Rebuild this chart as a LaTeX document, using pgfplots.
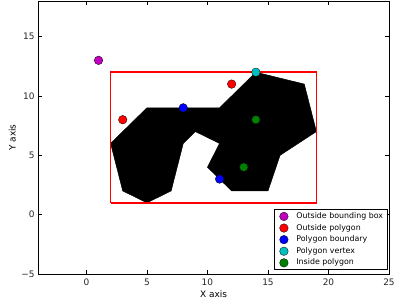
\documentclass[border=0pt]{standalone}
\usepackage{fontspec}
\setmainfont{DejaVu Sans}
\usepackage{pgfplots}
\pgfplotsset{compat=1.18}
\definecolor{mplm}{rgb}{0.75,0,0.75}
\definecolor{mplc}{rgb}{0,0.75,0.75}
\definecolor{mplg}{rgb}{0,0.5,0}
\begin{document}
\begin{tikzpicture}
\begin{axis}[
  scale only axis, width=351bp, height=273bp,
  xmin=-4, xmax=25, ymin=-5, ymax=18,
  xtick={0,5,10,15,20,25}, ytick={-5,0,5,10,15},
  xticklabels={0,5,10,15,20,25},
  yticklabels={−5,0,5,10,15},
  tick label style={font=\fontsize{9}{11}\selectfont, text=black!85},
  xticklabel style={yshift=-1bp},
  major tick length=4bp,
  tick style={black, line width=0.5bp},
  axis line style={black, line width=0.8bp},
  xlabel={X axis}, ylabel={Y axis},
  label style={font=\fontsize{9}{11}\selectfont},
  xlabel style={at={(axis description cs:0.5,-0.075)}, anchor=center},
  ylabel style={at={(axis description cs:-0.0735,0.5)}, anchor=center, rotate=0},
  legend cell align=left,
  legend style={at={(axis description cs:1,0)}, anchor=south east, xshift=-1bp, yshift=4bp,
    font=\fontsize{7.9}{9}\selectfont, draw=black, line width=0.8bp,
    inner xsep=3.1bp, inner ysep=1.5bp, row sep=1.1bp,
    nodes={inner sep=1.5bp, text height=5.8bp, text depth=1.7bp}},
  legend image code/.code={\path[draw=none, fill=none] (0bp,0bp) -- (17bp,0bp);
    \draw plot[only marks] coordinates {(6bp,0bp)};},
]
\addplot[fill=black, draw=black, line width=0.5bp, forget plot] coordinates {
  (2,6) (3,2) (5,1) (7,2) (8,6) (9,7) (11,6) (10,4) (12,2) (15,2) (16,5)
  (19,7) (18,11) (14,12) (11,9) (5,9) (2,6)};
\addplot[red, line width=1.6bp, forget plot] coordinates {
  (2,1) (19,1) (19,12) (2,12) (2,1)};
\addplot[only marks, mark=*, mark size=4.3bp, mark options={fill=mplm, draw=black, line width=0.3bp}] coordinates {(1,13)};
\addlegendentry{Outside bounding box}
\addplot[only marks, mark=*, mark size=4.3bp, mark options={fill=red, draw=black, line width=0.3bp}] coordinates {(3,8) (12,11)};
\addlegendentry{Outside polygon}
\addplot[only marks, mark=*, mark size=4.3bp, mark options={fill=blue, draw=black, line width=0.3bp}] coordinates {(8,9) (11,3)};
\addlegendentry{Polygon boundary}
\addplot[only marks, mark=*, mark size=4.3bp, mark options={fill=mplc, draw=black, line width=0.3bp}] coordinates {(14,12)};
\addlegendentry{Polygon vertex}
\addplot[only marks, mark=*, mark size=4.3bp, mark options={fill=mplg, draw=black, line width=0.3bp}] coordinates {(14,8) (13,4)};
\addlegendentry{Inside polygon}
\end{axis}
\path (current axis.south west) ++(-38bp,-26bp) coordinate (bl);
\path (current axis.north east) ++(9bp,1bp) coordinate (tr);
\pgfresetboundingbox
\path[use as bounding box] (bl) rectangle (tr);
\end{tikzpicture}
\end{document}
